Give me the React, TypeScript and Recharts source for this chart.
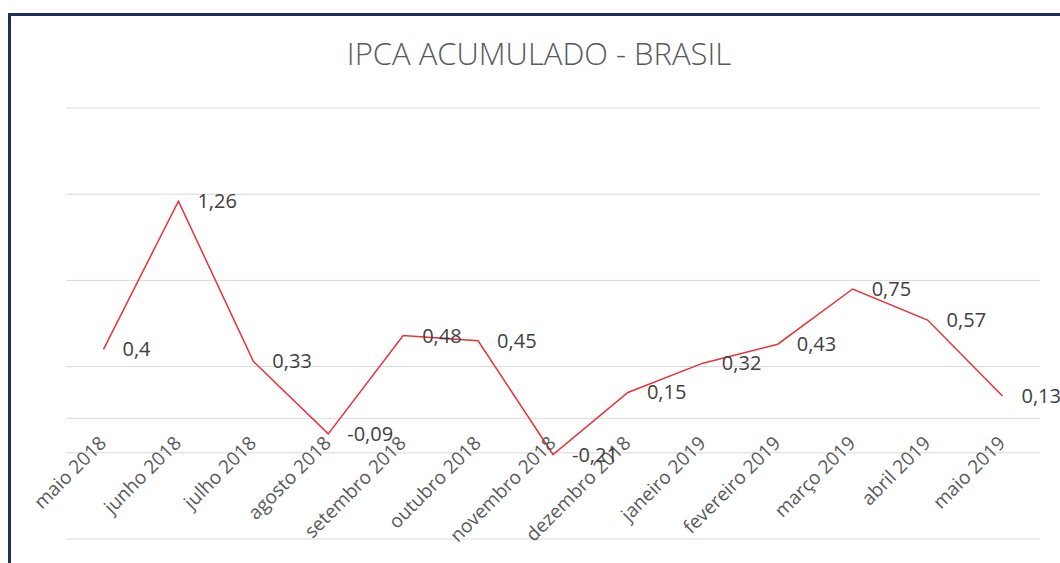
import React from 'react';
import { LineChart, Line, XAxis, YAxis, ReferenceLine } from 'recharts';

const months = [
  'maio 2018', 'junho 2018', 'julho 2018', 'agosto 2018', 'setembro 2018', 'outubro 2018',
  'novembro 2018', 'dezembro 2018', 'janeiro 2019', 'fevereiro 2019', 'março 2019', 'abril 2019', 'maio 2019',
];
const ipca = [0.4, 1.26, 0.33, -0.09, 0.48, 0.45, -0.21, 0.15, 0.32, 0.43, 0.75, 0.57, 0.13];
const yTicks = [-0.7, -0.2, 0.3, 0.8, 1.3, 1.8];
const Y_MIN = -0.7;
const Y_MAX = 1.8;

const data = months.map((m, i) => ({ month: m, value: ipca[i] }));

const W = 1060;
const H = 563;
const X_AXIS_H = 24;
const MARGIN = { top: 108, right: 20, left: 66, bottom: 0 };
const PLOT_H = H - MARGIN.top - MARGIN.bottom - X_AXIS_H;
const ZERO_Y = MARGIN.top + (PLOT_H * (Y_MAX - 0)) / (Y_MAX - Y_MIN);
const FONT = '"Open Sans", "DejaVu Sans", sans-serif';

const XTick = (props: any) => {
  const { x, payload } = props;
  const ax = x + 4;
  const ay = ZERO_Y + 26;
  return (
    <text
      x={ax}
      y={ay}
      transform={`rotate(-45, ${ax}, ${ay})`}
      textAnchor="end"
      fill="#595959"
      fontSize={19}
      fontFamily={FONT}
    >
      {payload.value}
    </text>
  );
};

const renderLabel = (props: any) => {
  const { x, y, value, index } = props;
  return (
    <text key={`lbl-${index}`} x={x + 19} y={y + 7} fill="#404040" fontSize={20} fontFamily={FONT}>
      {String(value).replace('.', ',')}
    </text>
  );
};

export default function App() {
  return (
    <div style={{ position: 'absolute', left: 0, top: 0, width: W, height: H, background: '#fff', overflow: 'hidden' }}>
      <div
        style={{
          position: 'absolute',
          left: 8,
          top: 13,
          width: W,
          height: H,
          borderTop: '3px solid #1F2E5E',
          borderLeft: '3px solid #1F2E5E',
          boxSizing: 'border-box',
        }}
      />
      <div
        style={{
          position: 'absolute',
          left: 0,
          width: 1078,
          top: 32,
          textAlign: 'center',
          fontFamily: FONT,
          fontSize: 31,
          fontWeight: 300,
          color: '#595959',
          lineHeight: 'normal',
        }}
      >
        IPCA ACUMULADO - BRASIL
      </div>
      <div style={{ position: 'absolute', left: 0, top: 0 }}>
        <LineChart width={W} height={H} data={data} margin={MARGIN}>
          <XAxis
            dataKey="month"
            height={X_AXIS_H}
            axisLine={false}
            tickLine={false}
            interval={0}
            padding={{ left: 37.5, right: 37.5 }}
            tick={<XTick />}
          />
          <YAxis
            width={0}
            domain={[Y_MIN, Y_MAX]}
            ticks={yTicks}
            tick={false}
            axisLine={false}
            tickLine={false}
            allowDataOverflow
          />
          {yTicks.map((t) => (
            <ReferenceLine key={`g-${t}`} y={t} stroke="#D9D9D9" strokeWidth={1} />
          ))}
          <ReferenceLine y={0} stroke="#D9D9D9" strokeWidth={1} />
          <Line
            type="linear"
            dataKey="value"
            stroke="#E8323A"
            strokeWidth={1.5}
            dot={false}
            isAnimationActive={false}
            label={renderLabel}
          />
        </LineChart>
      </div>
    </div>
  );
}
